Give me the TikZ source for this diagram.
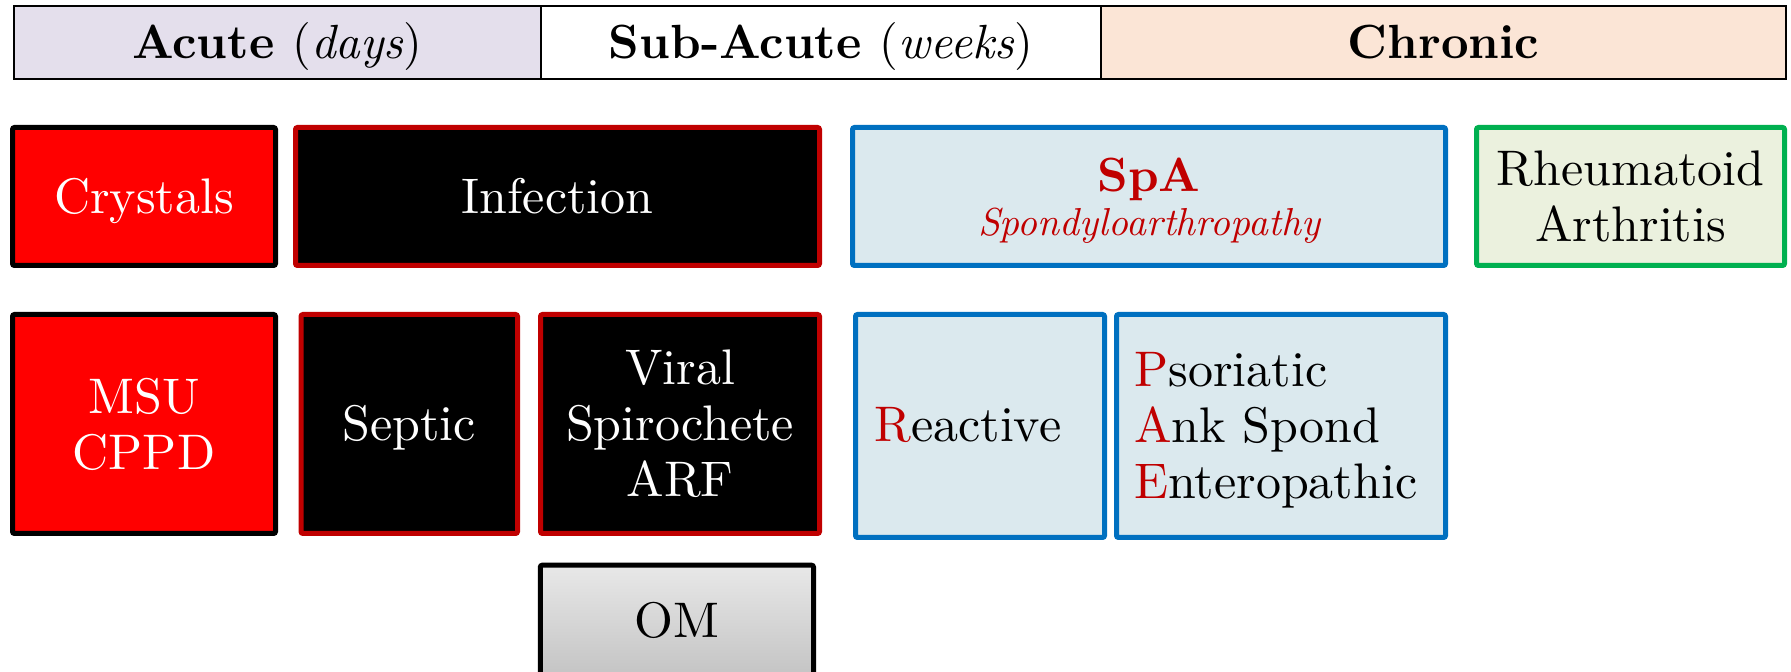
\documentclass[tikz,border=0pt]{standalone}
\usepackage{fontspec}
\setmainfont{lmroman10}[Extension=.otf,UprightFont=*-regular,BoldFont=*-bold,ItalicFont=*-italic,BoldItalicFont=*-bolditalic]
\definecolor{dred}{HTML}{C00000}
\definecolor{bred}{HTML}{FF0000}
\definecolor{sblue}{HTML}{0070C0}
\definecolor{lblue}{HTML}{DBE9EE}
\definecolor{sgreen}{HTML}{00B050}
\definecolor{lgreen}{HTML}{EBF1DE}
\definecolor{lav}{HTML}{E4DFEC}
\definecolor{peach}{HTML}{FBE5D6}
\definecolor{omtop}{HTML}{E8E8E8}
\definecolor{ombot}{HTML}{C4C4C4}
\begin{document}
\begin{tikzpicture}[x=0.5pt,y=-0.5pt,
  cell/.style={draw=black,line width=1pt,inner sep=0pt,minimum height=36.5pt,
    text height=16.5pt,text depth=0pt,font=\fontsize{24}{28}\selectfont\bfseries},
  box/.style={line width=2.5pt,inner sep=0pt,rounded corners=1pt,align=center,
    font=\fontsize{25}{28}\selectfont},
  oneline/.style={text height=17pt,text depth=0pt},
  redbox/.style={box,fill=bred,draw=black,text=white},
  blackbox/.style={box,fill=black,draw=dred,text=white},
  bluebox/.style={box,fill=lblue,draw=sblue},
  greenbox/.style={box,fill=lgreen,draw=sgreen},
  ombox/.style={box,draw=black,top color=omtop,bottom color=ombot},
  plain/.style={inner sep=0pt,font=\fontsize{25}{28}\selectfont}
]
\useasboundingbox (0,0) rectangle (1791,672);
% header
\node[cell,fill=lav,minimum width=263.65pt] (acute) at (277.35,42.5) {Acute \textmd{(\textit{days})}};
\node[cell,fill=white,minimum width=280pt] (subacute) at (821,42.5) {Sub-Acute \textmd{(\textit{weeks})}};
\node[cell,fill=peach,minimum width=342.5pt] (chronic) at (1443.5,42.5) {Chronic};
% row 1
\node[redbox,oneline,minimum width=131.5pt,minimum height=69pt] (crystals) at (144,196.5) {Crystals};
\node[blackbox,oneline,minimum width=262pt,minimum height=69pt] (infection) at (557.5,196.5) {Infection};
\node[bluebox,text depth=0pt,minimum width=296.5pt,minimum height=69pt,font=\fontsize{24}{22}\selectfont] (spa) at (1149,196.5)
  {\textcolor{dred}{\bfseries SpA}\\{\fontsize{19.5}{22}\selectfont\itshape\color{dred}Spondyloarthropathy}};
\node[greenbox,minimum width=154pt,minimum height=69pt] (ra) at (1630.5,196.5) {Rheumatoid\\Arthritis};
% row 2
\node[redbox,minimum width=131.5pt,minimum height=109.5pt] (msu) at (144,424) {MSU\\CPPD};
\node[blackbox,oneline,minimum width=108.25pt,minimum height=109.5pt] (septic) at (409.25,424) {Septic};
\node[blackbox,minimum width=139.5pt,minimum height=109.5pt] (viral) at (680,424) {Viral\\Spirochete\\ARF};
\node[bluebox,minimum width=124.5pt,minimum height=111.5pt] (reactive) at (980,426) {};
\node[plain,anchor=base west] (reactivetext) at (874,442) {\textcolor{dred}{R}eactive};
\node[bluebox,minimum width=164.5pt,minimum height=111.5pt] (pae) at (1281,426) {};
\node[plain,align=left,anchor=west] (paetext) at (1134,430)
  {\textcolor{dred}{P}soriatic\\\textcolor{dred}{A}nk Spond\\\textcolor{dred}{E}nteropathic};
% row 3
\node[ombox,oneline,minimum width=136.6pt,minimum height=55.4pt] (om) at (676.9,620.6) {OM};
\end{tikzpicture}
\end{document}
